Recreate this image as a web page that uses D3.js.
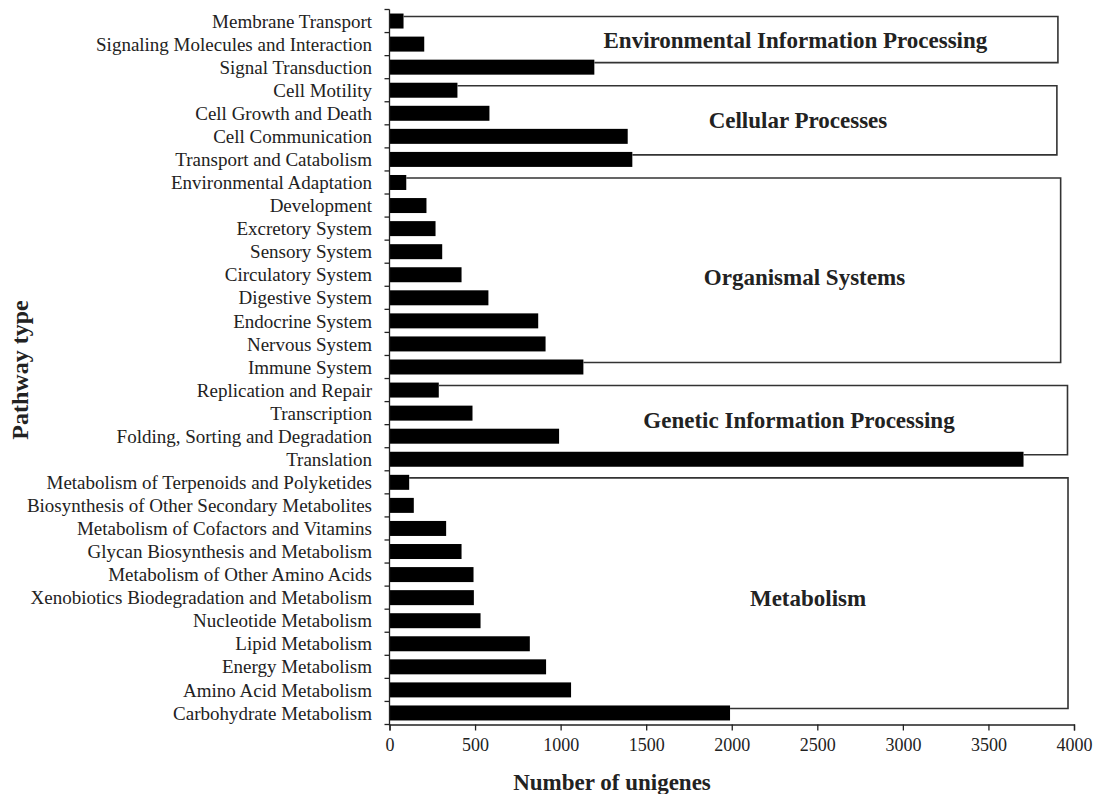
<!DOCTYPE html>
<html>
<head>
<meta charset="utf-8">
<script src="https://cdn.jsdelivr.net/npm/d3@7/dist/d3.min.js"></script>
<style>
  html, body { margin: 0; padding: 0; background: #fff; }
  svg { display: block; }
  text { font-family: "Liberation Serif", "Times New Roman", serif; fill: #222; }
</style>
</head>
<body>
<svg id="chart" width="1100" height="794"></svg>
<script>
// ---------- data ----------
const categories = [
  "Membrane Transport",
  "Signaling Molecules and Interaction",
  "Signal Transduction",
  "Cell Motility",
  "Cell Growth and Death",
  "Cell Communication",
  "Transport and Catabolism",
  "Environmental Adaptation",
  "Development",
  "Excretory System",
  "Sensory System",
  "Circulatory System",
  "Digestive System",
  "Endocrine System",
  "Nervous System",
  "Immune System",
  "Replication and Repair",
  "Transcription",
  "Folding, Sorting and Degradation",
  "Translation",
  "Metabolism of Terpenoids and Polyketides",
  "Biosynthesis of Other Secondary Metabolites",
  "Metabolism of Cofactors and Vitamins",
  "Glycan Biosynthesis and Metabolism",
  "Metabolism of Other Amino Acids",
  "Xenobiotics Biodegradation and Metabolism",
  "Nucleotide Metabolism",
  "Lipid Metabolism",
  "Energy Metabolism",
  "Amino Acid Metabolism",
  "Carbohydrate Metabolism"
];
const values = [
  82, 203, 1197,
  397, 584, 1392, 1419,
  98, 216, 269, 308, 421, 578, 869, 912, 1133,
  288, 485, 991, 3705,
  115, 142, 331, 421, 491, 493, 532, 820, 915, 1061, 1990
];
const groupNames = [
  "Environmental Information Processing",
  "Cellular Processes",
  "Organismal Systems",
  "Genetic Information Processing",
  "Metabolism"
];
const groupFirst = [0, 3, 7, 16, 20];
const groupLast  = [2, 6, 15, 19, 30];
const groupBracketEnd = [3906, 3900, 3922, 3962, 3965];   // in unigene units
const groupLabelCenter = [2372, 2387, 2425, 2393, 2446];  // in unigene units
const groupLabelRow = [0.82, 4.29, 11.1, 17.3, 25.0];     // in category rows
const xTicks = [0, 500, 1000, 1500, 2000, 2500, 3000, 3500, 4000];
const xTitle = "Number of unigenes";
const yTitle = "Pathway type";

// ---------- layout ----------
const svg = d3.select("#chart");
const x = d3.scaleLinear().domain([0, 4000]).range([389.5, 1074]);
const y = d3.scaleBand().domain(categories).range([9.5, 724.5])
  .paddingInner(0.35).paddingOuter(0.175);
const step = y.step();
const rowY = r => y.range()[0] + step * (r + 0.5);

// bars
svg.append("g").selectAll("rect")
  .data(categories)
  .join("rect")
  .attr("x", x(0))
  .attr("y", d => y(d))
  .attr("width", (d, i) => x(values[i]) - x(0))
  .attr("height", y.bandwidth())
  .attr("fill", "#000");

// y axis line + ticks at band boundaries
const yAxisG = svg.append("g");
yAxisG.append("line")
  .attr("x1", x(0)).attr("x2", x(0))
  .attr("y1", y.range()[0]).attr("y2", y.range()[1] + 1)
  .attr("stroke", "#222").attr("stroke-width", 1.3);
yAxisG.selectAll("line.tick")
  .data(d3.range(categories.length + 1))
  .join("line")
  .attr("class", "tick")
  .attr("x1", x(0) - 5).attr("x2", x(0))
  .attr("y1", i => y.range()[0] + i * step)
  .attr("y2", i => y.range()[0] + i * step)
  .attr("stroke", "#222").attr("stroke-width", 1.3);
yAxisG.selectAll("text")
  .data(categories)
  .join("text")
  .attr("x", 372)
  .attr("y", d => y(d) + y.bandwidth() / 2)
  .attr("dy", "0.35em")
  .attr("text-anchor", "end")
  .attr("font-size", 19)
  .text(d => d);

// x axis
const xAxis = d3.axisBottom(x).tickValues(xTicks).tickSize(6).tickPadding(8)
  .tickFormat(d3.format("d"));
const xg = svg.append("g")
  .attr("transform", `translate(0,${y.range()[1]})`)
  .call(xAxis);
xg.select(".domain").attr("stroke", "#222").attr("stroke-width", 1.3);
xg.selectAll(".tick line").attr("stroke", "#222").attr("stroke-width", 1.3);
xg.selectAll(".tick text")
  .attr("font-size", 18)
  .attr("font-family", "Liberation Serif, serif")
  .attr("fill", "#222");

// brackets
const bracketOffset = y.bandwidth() * 0.2;
const bg = svg.append("g");
groupNames.forEach((g, k) => {
  const c0 = categories[groupFirst[k]];
  const c1 = categories[groupLast[k]];
  const yTop = y(c0) + bracketOffset;
  const yBot = y(c1) + bracketOffset;
  const p = d3.path();
  p.moveTo(x(values[groupFirst[k]]), yTop);
  p.lineTo(x(groupBracketEnd[k]), yTop);
  p.lineTo(x(groupBracketEnd[k]), yBot);
  p.lineTo(x(values[groupLast[k]]), yBot);
  bg.append("path")
    .attr("d", p.toString())
    .attr("fill", "none")
    .attr("stroke", "#333")
    .attr("stroke-width", 1.6);
  bg.append("text")
    .attr("x", x(groupLabelCenter[k]))
    .attr("y", rowY(groupLabelRow[k]))
    .attr("dy", "0.35em")
    .attr("text-anchor", "middle")
    .attr("font-size", 23)
    .attr("font-weight", "bold")
    .text(g);
});

// titles
svg.append("text")
  .attr("x", 612).attr("y", 782)
  .attr("dy", "0.35em")
  .attr("text-anchor", "middle")
  .attr("font-size", 23)
  .attr("font-weight", "bold")
  .text(xTitle);
svg.append("text")
  .attr("transform", "translate(20,370) rotate(-90)")
  .attr("dy", "0.35em")
  .attr("text-anchor", "middle")
  .attr("font-size", 24)
  .attr("font-weight", "bold")
  .text(yTitle);
</script>
</body>
</html>
